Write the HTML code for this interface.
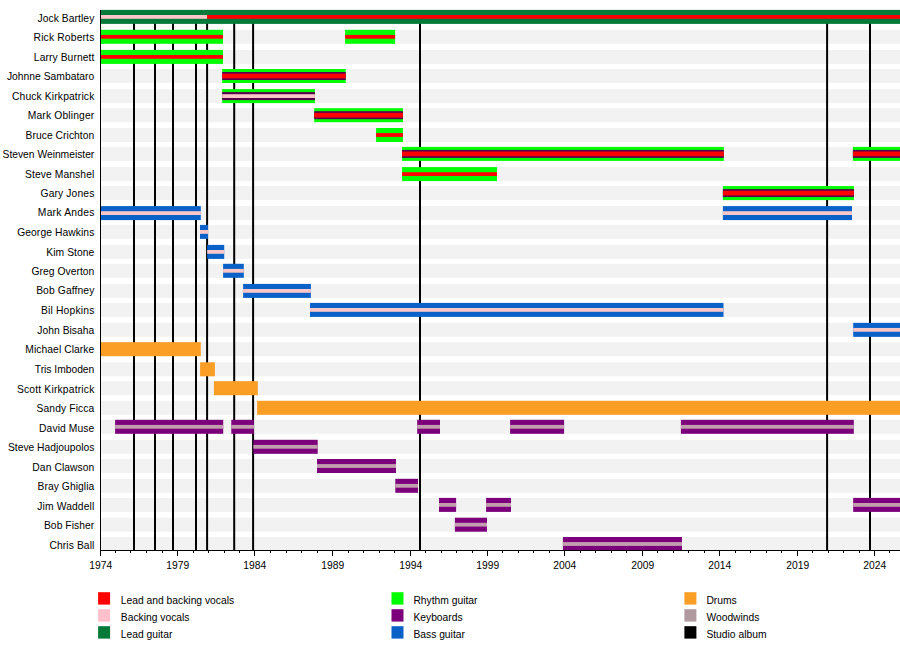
<!DOCTYPE html>
<html><head><meta charset="utf-8"><title>Firefall timeline</title>
<style>html,body{margin:0;padding:0;background:#fff;}svg{display:block;}</style>
</head><body>
<svg width="900" height="650" viewBox="0 0 900 650"><rect x="0" y="0" width="900" height="650" fill="#fff"/><g fill="#f2f2f2"><rect x="100.5" y="9.9" width="799.5" height="14"/><rect x="100.5" y="29.8" width="799.5" height="14"/><rect x="100.5" y="49.9" width="799.5" height="14"/><rect x="100.5" y="69" width="799.5" height="14"/><rect x="100.5" y="89.1" width="799.5" height="14"/><rect x="100.5" y="108.2" width="799.5" height="14"/><rect x="100.5" y="128" width="799.5" height="14"/><rect x="100.5" y="146.9" width="799.5" height="14"/><rect x="100.5" y="167.1" width="799.5" height="14"/><rect x="100.5" y="186.1" width="799.5" height="14"/><rect x="100.5" y="206.1" width="799.5" height="14"/><rect x="100.5" y="224.9" width="799.5" height="14"/><rect x="100.5" y="244.9" width="799.5" height="14"/><rect x="100.5" y="263.8" width="799.5" height="14"/><rect x="100.5" y="283.9" width="799.5" height="14"/><rect x="100.5" y="302.9" width="799.5" height="14"/><rect x="100.5" y="322.85" width="799.5" height="14"/><rect x="100.5" y="342.2" width="799.5" height="14"/><rect x="100.5" y="362.3" width="799.5" height="14"/><rect x="100.5" y="381.2" width="799.5" height="14"/><rect x="100.5" y="400.8" width="799.5" height="14"/><rect x="100.5" y="419.8" width="799.5" height="14"/><rect x="100.5" y="439.8" width="799.5" height="14"/><rect x="100.5" y="459" width="799.5" height="14"/><rect x="100.5" y="478.8" width="799.5" height="14"/><rect x="100.5" y="497.9" width="799.5" height="14"/><rect x="100.5" y="517.7" width="799.5" height="14"/><rect x="100.5" y="537" width="799.5" height="14"/></g><g fill="#000"><rect x="133" y="10" width="2" height="540"/><rect x="154" y="10" width="2" height="540"/><rect x="172" y="10" width="2" height="540"/><rect x="195" y="10" width="2" height="540"/><rect x="206.1" y="10" width="2" height="540"/><rect x="233.2" y="10" width="2" height="540"/><rect x="252.1" y="10" width="2" height="540"/><rect x="419" y="10" width="2" height="540"/><rect x="826.1" y="10" width="2" height="540"/><rect x="869" y="10" width="2" height="540"/></g><rect x="100.5" y="9.9" width="799.5" height="14" fill="#067a38"/><rect x="100.5" y="15" width="106.5" height="3.8" fill="#fac6c8"/><rect x="207" y="15" width="693" height="3.8" fill="#ff0000"/><rect x="100.5" y="29.8" width="122.5" height="14" fill="#00ff00"/><rect x="100.5" y="34.9" width="122.5" height="3.8" fill="#ff0000"/><rect x="345.1" y="29.8" width="50" height="14" fill="#00ff00"/><rect x="345.1" y="34.9" width="50" height="3.8" fill="#ff0000"/><rect x="100.5" y="49.9" width="122.5" height="14" fill="#00ff00"/><rect x="100.5" y="55" width="122.5" height="3.8" fill="#ff0000"/><rect x="222.2" y="69" width="123.5" height="14" fill="#00ff00"/><rect x="222.2" y="72" width="123.5" height="8" fill="#56004e"/><rect x="222.2" y="73.65" width="123.5" height="4.7" fill="#ff0000"/><rect x="222.2" y="89.1" width="92.7" height="14" fill="#00ff00"/><rect x="222.2" y="92.1" width="92.7" height="8" fill="#56004e"/><rect x="222.2" y="94.2" width="92.7" height="3.8" fill="#fac6c8"/><rect x="314.2" y="108.2" width="88.7" height="14" fill="#00ff00"/><rect x="314.2" y="111.2" width="88.7" height="8" fill="#56004e"/><rect x="314.2" y="112.85" width="88.7" height="4.7" fill="#ff0000"/><rect x="376.1" y="128" width="26.8" height="14" fill="#00ff00"/><rect x="376.1" y="133.1" width="26.8" height="3.8" fill="#ff0000"/><rect x="402.1" y="146.9" width="321.7" height="14" fill="#00ff00"/><rect x="402.1" y="149.9" width="321.7" height="8" fill="#56004e"/><rect x="402.1" y="151.55" width="321.7" height="4.7" fill="#ff0000"/><rect x="852.9" y="146.9" width="47.1" height="14" fill="#00ff00"/><rect x="852.9" y="149.9" width="47.1" height="8" fill="#56004e"/><rect x="852.9" y="151.55" width="47.1" height="4.7" fill="#ff0000"/><rect x="402.1" y="167.1" width="94.9" height="14" fill="#00ff00"/><rect x="402.1" y="172.2" width="94.9" height="3.8" fill="#ff0000"/><rect x="722.9" y="186.1" width="131" height="14" fill="#00ff00"/><rect x="722.9" y="189.1" width="131" height="8" fill="#56004e"/><rect x="722.9" y="190.75" width="131" height="4.7" fill="#ff0000"/><rect x="100.5" y="206.1" width="100.3" height="14" fill="#0a62c8"/><rect x="100.5" y="211.2" width="100.3" height="3.8" fill="#fac6c8"/><rect x="722.9" y="206.1" width="129.1" height="14" fill="#0a62c8"/><rect x="722.9" y="211.2" width="129.1" height="3.8" fill="#fac6c8"/><rect x="200" y="224.9" width="8" height="14" fill="#0a62c8"/><rect x="200" y="230" width="8" height="3.8" fill="#fac6c8"/><rect x="207.2" y="244.9" width="17" height="14" fill="#0a62c8"/><rect x="207.2" y="250" width="17" height="3.8" fill="#fac6c8"/><rect x="223.1" y="263.8" width="20.7" height="14" fill="#0a62c8"/><rect x="223.1" y="268.9" width="20.7" height="3.8" fill="#fac6c8"/><rect x="243.1" y="283.9" width="67.8" height="14" fill="#0a62c8"/><rect x="243.1" y="289" width="67.8" height="3.8" fill="#fac6c8"/><rect x="310" y="302.9" width="413.5" height="14" fill="#0a62c8"/><rect x="310" y="308" width="413.5" height="3.8" fill="#fac6c8"/><rect x="853.2" y="322.85" width="46.8" height="14" fill="#0a62c8"/><rect x="853.2" y="327.95" width="46.8" height="3.8" fill="#fac6c8"/><rect x="100.5" y="342.2" width="100.3" height="14" fill="#fb9e26"/><rect x="200.1" y="362.3" width="14.8" height="14" fill="#fb9e26"/><rect x="213.9" y="381.2" width="43.9" height="14" fill="#fb9e26"/><rect x="257.1" y="400.8" width="642.9" height="14" fill="#fb9e26"/><rect x="115.1" y="419.8" width="108.1" height="14" fill="#7c007c"/><rect x="115.1" y="424.9" width="108.1" height="3.8" fill="#c29eae"/><rect x="231.3" y="419.8" width="22.6" height="14" fill="#7c007c"/><rect x="231.3" y="424.9" width="22.6" height="3.8" fill="#c29eae"/><rect x="417.2" y="419.8" width="22.8" height="14" fill="#7c007c"/><rect x="417.2" y="424.9" width="22.8" height="3.8" fill="#c29eae"/><rect x="510.1" y="419.8" width="54" height="14" fill="#7c007c"/><rect x="510.1" y="424.9" width="54" height="3.8" fill="#c29eae"/><rect x="680.9" y="419.8" width="172.9" height="14" fill="#7c007c"/><rect x="680.9" y="424.9" width="172.9" height="3.8" fill="#c29eae"/><rect x="253.4" y="439.8" width="64.3" height="14" fill="#7c007c"/><rect x="253.4" y="444.9" width="64.3" height="3.8" fill="#c29eae"/><rect x="317" y="459" width="79" height="14" fill="#7c007c"/><rect x="317" y="464.1" width="79" height="3.8" fill="#c29eae"/><rect x="395.3" y="478.8" width="22.7" height="14" fill="#7c007c"/><rect x="395.3" y="483.9" width="22.7" height="3.8" fill="#c29eae"/><rect x="439" y="497.9" width="17.1" height="14" fill="#7c007c"/><rect x="439" y="503" width="17.1" height="3.8" fill="#c29eae"/><rect x="486.1" y="497.9" width="24.9" height="14" fill="#7c007c"/><rect x="486.1" y="503" width="24.9" height="3.8" fill="#c29eae"/><rect x="853.2" y="497.9" width="46.8" height="14" fill="#7c007c"/><rect x="853.2" y="503" width="46.8" height="3.8" fill="#c29eae"/><rect x="454.9" y="517.7" width="32.1" height="14" fill="#7c007c"/><rect x="454.9" y="522.8" width="32.1" height="3.8" fill="#c29eae"/><rect x="562.9" y="537" width="119.1" height="14" fill="#7c007c"/><rect x="562.9" y="542.1" width="119.1" height="3.8" fill="#c29eae"/><rect x="100" y="10" width="1" height="546" fill="#000"/><rect x="100" y="550" width="800" height="1" fill="#000"/><g fill="#000"><rect x="100" y="551" width="1" height="5"/><rect x="115" y="551" width="1" height="2"/><rect x="130" y="551" width="1" height="2"/><rect x="146" y="551" width="1" height="2"/><rect x="162" y="551" width="1" height="2"/><rect x="177" y="551" width="1" height="5"/><rect x="193" y="551" width="1" height="2"/><rect x="208" y="551" width="1" height="2"/><rect x="224" y="551" width="1" height="2"/><rect x="239" y="551" width="1" height="2"/><rect x="254" y="551" width="1" height="5"/><rect x="270" y="551" width="1" height="2"/><rect x="286" y="551" width="1" height="2"/><rect x="301" y="551" width="1" height="2"/><rect x="317" y="551" width="1" height="2"/><rect x="332" y="551" width="1" height="5"/><rect x="348" y="551" width="1" height="2"/><rect x="363" y="551" width="1" height="2"/><rect x="379" y="551" width="1" height="2"/><rect x="394" y="551" width="1" height="2"/><rect x="410" y="551" width="1" height="5"/><rect x="425" y="551" width="1" height="2"/><rect x="441" y="551" width="1" height="2"/><rect x="456" y="551" width="1" height="2"/><rect x="472" y="551" width="1" height="2"/><rect x="487" y="551" width="1" height="5"/><rect x="502" y="551" width="1" height="2"/><rect x="518" y="551" width="1" height="2"/><rect x="533" y="551" width="1" height="2"/><rect x="549" y="551" width="1" height="2"/><rect x="564" y="551" width="1" height="5"/><rect x="580" y="551" width="1" height="2"/><rect x="595" y="551" width="1" height="2"/><rect x="611" y="551" width="1" height="2"/><rect x="626" y="551" width="1" height="2"/><rect x="642" y="551" width="1" height="5"/><rect x="657" y="551" width="1" height="2"/><rect x="673" y="551" width="1" height="2"/><rect x="688" y="551" width="1" height="2"/><rect x="704" y="551" width="1" height="2"/><rect x="719" y="551" width="1" height="5"/><rect x="735" y="551" width="1" height="2"/><rect x="750" y="551" width="1" height="2"/><rect x="766" y="551" width="1" height="2"/><rect x="781" y="551" width="1" height="2"/><rect x="797" y="551" width="1" height="5"/><rect x="812" y="551" width="1" height="2"/><rect x="828" y="551" width="1" height="2"/><rect x="843" y="551" width="1" height="2"/><rect x="859" y="551" width="1" height="2"/><rect x="874" y="551" width="1" height="5"/><rect x="889" y="551" width="1" height="2"/></g><g font-family="Liberation Sans, sans-serif" font-size="10.3" fill="#000"><text x="100.8" y="568.7" text-anchor="middle">1974</text><text x="177.8" y="568.7" text-anchor="middle">1979</text><text x="254.8" y="568.7" text-anchor="middle">1984</text><text x="332.8" y="568.7" text-anchor="middle">1989</text><text x="410.8" y="568.7" text-anchor="middle">1994</text><text x="487.8" y="568.7" text-anchor="middle">1999</text><text x="564.8" y="568.7" text-anchor="middle">2004</text><text x="642.8" y="568.7" text-anchor="middle">2009</text><text x="719.8" y="568.7" text-anchor="middle">2014</text><text x="797.8" y="568.7" text-anchor="middle">2019</text><text x="874.8" y="568.7" text-anchor="middle">2024</text></g><g font-family="Liberation Sans, sans-serif" font-size="10.3" fill="#000"><text x="94.3" y="21.85" text-anchor="end" textLength="56.79">Jock Bartley</text><text x="94.3" y="40.6" text-anchor="end" textLength="60.74">Rick Roberts</text><text x="94.3" y="60.6" text-anchor="end" textLength="60.43">Larry Burnett</text><text x="94.3" y="79.7" text-anchor="end" textLength="87.42">Johnne Sambataro</text><text x="94.3" y="100" text-anchor="end" textLength="82.31">Chuck Kirkpatrick</text><text x="94.3" y="118.8" text-anchor="end" textLength="66.57">Mark Oblinger</text><text x="94.3" y="138.8" text-anchor="end" textLength="68.81">Bruce Crichton</text><text x="94.3" y="157.8" text-anchor="end" textLength="91.75">Steven Weinmeister</text><text x="94.3" y="177.5" text-anchor="end" textLength="69.33">Steve Manshel</text><text x="94.3" y="196.9" text-anchor="end" textLength="53.76">Gary Jones</text><text x="94.3" y="216.3" text-anchor="end" textLength="56.48">Mark Andes</text><text x="94.3" y="235.8" text-anchor="end" textLength="77.12">George Hawkins</text><text x="94.3" y="255.5" text-anchor="end" textLength="48.02">Kim Stone</text><text x="94.3" y="274.9" text-anchor="end" textLength="62.89">Greg Overton</text><text x="94.3" y="294.4" text-anchor="end" textLength="58.16">Bob Gaffney</text><text x="94.3" y="313.8" text-anchor="end" textLength="53.42">Bil Hopkins</text><text x="94.3" y="334.2" text-anchor="end" textLength="56.99">John Bisaha</text><text x="94.3" y="352.9" text-anchor="end" textLength="69.01">Michael Clarke</text><text x="94.3" y="373.1" text-anchor="end" textLength="59.52">Tris Imboden</text><text x="94.3" y="392.5" text-anchor="end" textLength="77.39">Scott Kirkpatrick</text><text x="94.3" y="412.2" text-anchor="end" textLength="57.77">Sandy Ficca</text><text x="94.3" y="432.2" text-anchor="end" textLength="55.27">David Muse</text><text x="94.3" y="451.4" text-anchor="end" textLength="86.35">Steve Hadjoupolos</text><text x="94.3" y="470.9" text-anchor="end" textLength="61.95">Dan Clawson</text><text x="94.3" y="489.9" text-anchor="end" textLength="56.79">Bray Ghiglia</text><text x="94.3" y="510" text-anchor="end" textLength="57">Jim Waddell</text><text x="94.3" y="528.8" text-anchor="end" textLength="50.4">Bob Fisher</text><text x="94.3" y="548.8" text-anchor="end" textLength="44.76">Chris Ball</text></g><g font-family="Liberation Sans, sans-serif" font-size="10.3" fill="#000"><rect x="98.1" y="592.2" width="12" height="12.4" fill="#ff0000"/><text x="120.8" y="604">Lead and backing vocals</text><rect x="98.1" y="609.2" width="12" height="12.4" fill="#ffc0cb"/><text x="120.8" y="620.9">Backing vocals</text><rect x="98.1" y="626.2" width="12" height="12.4" fill="#067a38"/><text x="120.8" y="637.8">Lead guitar</text><rect x="391.5" y="592.2" width="12" height="12.4" fill="#00ff00"/><text x="413.4" y="604">Rhythm guitar</text><rect x="391.5" y="609.2" width="12" height="12.4" fill="#7c007c"/><text x="413.4" y="620.9">Keyboards</text><rect x="391.5" y="626.2" width="12" height="12.4" fill="#0a62c8"/><text x="413.4" y="637.8">Bass guitar</text><rect x="684.4" y="592.2" width="12" height="12.4" fill="#fb9e26"/><text x="706.4" y="604">Drums</text><rect x="684.4" y="609.2" width="12" height="12.4" fill="#b09aa0"/><text x="706.4" y="620.9">Woodwinds</text><rect x="684.4" y="626.2" width="12" height="12.4" fill="#000000"/><text x="706.4" y="637.8">Studio album</text></g></svg>
</body></html>
